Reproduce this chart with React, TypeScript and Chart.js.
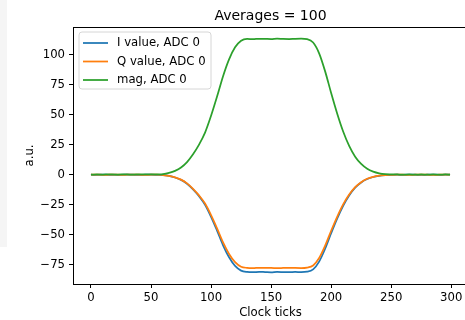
import React, { useEffect, useRef } from "react";
import { Chart, registerables } from "chart.js";

Chart.register(...registerables);

const clockTicks = [
  0, 5, 10, 15, 20, 25, 30, 35, 40, 45, 50, 55, 60, 65, 70, 75, 80, 85, 90, 95,
  100, 105, 110, 115, 120, 125, 130, 135, 140, 145, 150, 155, 160, 165, 170, 175,
  180, 185, 190, 195, 200, 205, 210, 215, 220, 225, 230, 235, 240, 245, 250, 255,
  260, 265, 270, 275, 280, 285, 290, 295, 299,
];

const iValues = [
  0, -0.1, 0.1, -0.1, 0, -0.1, 0.1, 0, -0.1, 0, 0.1, -0.1,
  -0.3, -1.0, -2.3, -4.3, -7.5, -12.2, -17.9, -25, -35, -46.5, -58.7, -68.7, -75.9, -79.8, -80.9,
  -81.1, -80.8, -81, -81.2, -80.9, -81, -81.1, -80.9, -81, -80.7,
  -78.8, -72.3, -61.6, -48.7, -36.5, -25.8, -17.2, -10.7, -6.4, -3.6, -1.9, -0.9, -0.4, -0.2,
  0, -0.1, 0.1, 0, -0.1, 0, 0.1, -0.1, 0, 0,
];

const qValues = [
  0, 0.1, -0.1, 0, 0.1, -0.1, 0, 0.1, 0, -0.1, 0, 0.1,
  -0.3, -1.0, -2.2, -4.1, -7.2, -11.7, -17.2, -24, -33.6, -44.6, -56.3, -65.9, -72.7, -76.5, -77.5,
  -77.7, -77.4, -77.6, -77.5, -77.8, -77.6, -77.4, -77.6, -77.7, -77.3,
  -75.5, -69.3, -59, -46.6, -35, -24.7, -16.5, -10.3, -6.2, -3.4, -1.8, -0.8, -0.3, -0.1,
  0.1, 0, -0.1, 0, 0.1, 0, -0.1, 0, 0.1, 0,
];

const magValues = [
  0.1, 0.2, 0.1, 0.3, 0.1, 0.2, 0.2, 0.1, 0.3, 0.2, 0.2, 0.3,
  0.5, 1.5, 3.2, 6, 10.5, 17, 25, 35, 49, 65, 82, 96, 106, 111.5, 113,
  112.8, 113.1, 113, 112.9, 113.2, 113, 112.9, 113.1, 113.2, 112.8,
  110, 101, 86, 68, 51, 36, 24, 15, 9, 5, 2.6, 1.2, 0.5, 0.3,
  0.2, 0.1, 0.2, 0.1, 0.2, 0.1, 0.2, 0.1, 0.2, 0.1,
];

const seriesLabels = ["I value, ADC 0", "Q value, ADC 0", "mag, ADC 0"];
const seriesColors = ["#1f77b4", "#ff7f0e", "#2ca02c"];
const xTickValues = [0, 50, 100, 150, 200, 250, 300];
const yTickValues = [-75, -50, -25, 0, 25, 50, 75, 100];
const titleText = "Averages = 100";
const xLabel = "Clock ticks";
const yLabel = "a.u.";

const FONT = "'DejaVu Sans', sans-serif";
const FS = 11.7;

export default function App() {
  const ref = useRef<HTMLCanvasElement | null>(null);

  useEffect(() => {
    const canvas = ref.current;
    if (!canvas) return;

    const allY = [...iValues, ...qValues, ...magValues];
    const yMinD = Math.min(...allY);
    const yMaxD = Math.max(...allY);
    const yPad = (yMaxD - yMinD) * 0.05;
    const xMinD = clockTicks[0];
    const xMaxD = clockTicks[clockTicks.length - 1];
    const xPad = (xMaxD - xMinD) * 0.05;

    const series = [iValues, qValues, magValues];
    const datasets = series.map((vals, k) => ({
      label: seriesLabels[k],
      data: clockTicks.map((x, j) => ({ x, y: vals[j] })),
      borderColor: seriesColors[k],
      backgroundColor: seriesColors[k],
      borderWidth: 1.75,
      pointRadius: 0,
      fill: false,
      cubicInterpolationMode: "monotone" as const,
      order: 3 - k,
    }));

    const decor = {
      id: "decor",
      afterDraw(chart: any) {
        const ctx = chart.ctx;
        const a = chart.chartArea;
        ctx.save();
        // top & right spines
        ctx.strokeStyle = "#000";
        ctx.lineWidth = 1;
        ctx.beginPath();
        ctx.moveTo(a.left, Math.round(a.top) + 0.5);
        ctx.lineTo(a.right, Math.round(a.top) + 0.5);
        ctx.moveTo(Math.round(a.right) + 0.5, a.top);
        ctx.lineTo(Math.round(a.right) + 0.5, a.bottom);
        ctx.stroke();
        // title
        ctx.fillStyle = "#000";
        ctx.font = `14px ${FONT}`;
        ctx.textAlign = "center";
        ctx.textBaseline = "middle";
        ctx.fillText(titleText, (a.left + a.right) / 2, a.top - 11);
        // legend
        const bx = a.left + 6, by = a.top + 5, bw = 132, bh = 57;
        ctx.beginPath();
        const r = 3;
        ctx.moveTo(bx + r, by);
        ctx.lineTo(bx + bw - r, by);
        ctx.arcTo(bx + bw, by, bx + bw, by + r, r);
        ctx.lineTo(bx + bw, by + bh - r);
        ctx.arcTo(bx + bw, by + bh, bx + bw - r, by + bh, r);
        ctx.lineTo(bx + r, by + bh);
        ctx.arcTo(bx, by + bh, bx, by + bh - r, r);
        ctx.lineTo(bx, by + r);
        ctx.arcTo(bx, by, bx + r, by, r);
        ctx.closePath();
        ctx.fillStyle = "rgba(255,255,255,0.8)";
        ctx.fill();
        ctx.strokeStyle = "#d6d6d6";
        ctx.lineWidth = 1;
        ctx.stroke();
        ctx.font = `${FS}px ${FONT}`;
        ctx.textAlign = "left";
        ctx.textBaseline = "middle";
        chart.data.datasets.forEach((ds: any, k: number) => {
          const yy = by + 11 + k * 18.5;
          ctx.strokeStyle = ds.borderColor;
          ctx.lineWidth = 1.75;
          ctx.beginPath();
          ctx.moveTo(bx + 4, yy);
          ctx.lineTo(bx + 29, yy);
          ctx.stroke();
          ctx.fillStyle = "#000";
          ctx.fillText(ds.label, bx + 38, yy);
        });
        ctx.restore();
      },
    };

    const minusFmt = (v: any) => String(v).replace("-", "\u2212");

    const chart = new Chart(canvas, {
      type: "line",
      data: { datasets },
      options: {
        animation: false,
        responsive: false,
        devicePixelRatio: 1,
        parsing: true,
        layout: { padding: { left: 0, top: 27, right: 12, bottom: 0 } },
        plugins: {
          legend: { display: false },
          title: { display: false },
          tooltip: { enabled: false },
        },
        scales: {
          x: {
            type: "linear",
            min: xMinD - xPad,
            max: xMaxD + xPad,
            afterFit: (s: any) => {
              s.height = 36;
            },
            afterBuildTicks: (s: any) => {
              s.ticks = xTickValues.map((v) => ({ value: v }));
            },
            grid: {
              drawOnChartArea: false,
              drawTicks: true,
              tickLength: 4,
              color: "#000",
              tickWidth: 1,
            },
            border: { display: true, color: "#000", width: 1 },
            ticks: {
              color: "#000",
              font: { family: FONT, size: FS },
              padding: 3,
              maxRotation: 0,
              autoSkip: false,
              callback: minusFmt,
            },
            title: {
              display: true,
              text: xLabel,
              color: "#000",
              font: { family: FONT, size: FS },
              padding: { top: 0, bottom: 0 },
            },
          },
          y: {
            type: "linear",
            min: yMinD - yPad,
            max: yMaxD + yPad,
            afterFit: (s: any) => {
              s.width = 73;
            },
            afterBuildTicks: (s: any) => {
              s.ticks = yTickValues.map((v) => ({ value: v }));
            },
            grid: {
              drawOnChartArea: false,
              drawTicks: true,
              tickLength: 4,
              color: "#000",
              tickWidth: 1,
            },
            border: { display: true, color: "#000", width: 1 },
            ticks: {
              color: "#000",
              font: { family: FONT, size: FS },
              padding: 4,
              autoSkip: false,
              callback: minusFmt,
            },
            title: {
              display: true,
              text: yLabel,
              color: "#000",
              font: { family: FONT, size: FS },
              padding: { top: 23, bottom: 0 },
            },
          },
        },
      },
      plugins: [decor],
    });

    return () => chart.destroy();
  }, []);

  return (
    <div
      style={{
        position: "fixed",
        left: 0,
        top: 0,
        width: 465,
        height: 320,
        overflow: "hidden",
        background: "#fff",
      }}
    >
      <div
        style={{
          position: "absolute",
          left: 0,
          top: 0,
          width: 7,
          height: 247,
          background: "#f5f5f5",
        }}
      />
      <canvas
        ref={ref}
        width={480}
        height={320}
        style={{ position: "absolute", left: 0, top: 0, width: 480, height: 320 }}
      />
    </div>
  );
}
